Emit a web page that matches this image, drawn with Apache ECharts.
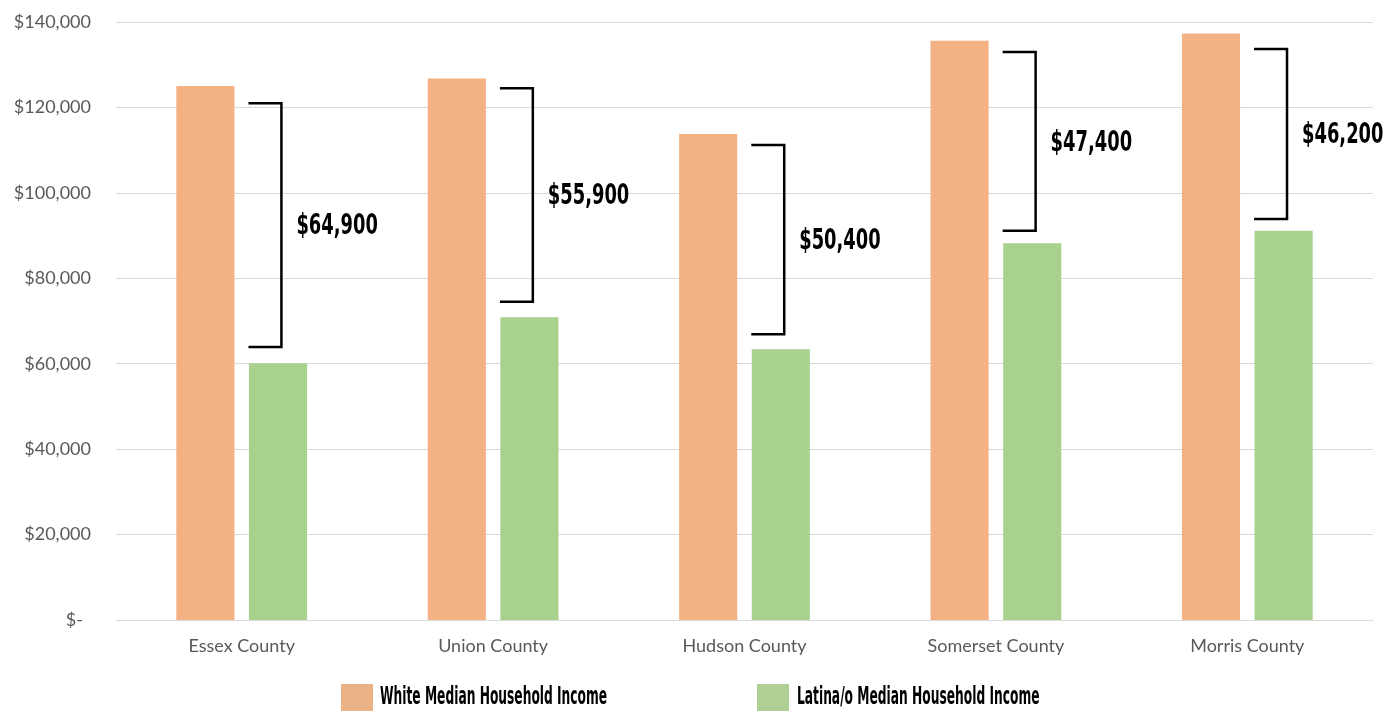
<!DOCTYPE html>
<html>
<head>
<meta charset="utf-8">
<script src="https://cdn.jsdelivr.net/npm/echarts@6/dist/echarts.min.js"></script>
<style>
html,body{margin:0;padding:0;background:#fff;}
#chart{width:1393px;height:711px;}
</style>
</head>
<body>
<div id="chart"></div>
<script>
var categories = ['Essex County', 'Union County', 'Hudson County', 'Somerset County', 'Morris County'];
var seriesNames = ['White Median Household Income', 'Latina/o Median Household Income'];
var whiteIncome = [125000, 126800, 113800, 135600, 137300];
var latinaIncome = [60100, 70900, 63400, 88200, 91100];
var gapLabels = ['$64,900', '$55,900', '$50,400', '$47,400', '$46,200'];
var bracketTop = [121000, 124500, 111200, 133000, 133700];
var bracketBottom = [63900, 74500, 66900, 91100, 93900];

var condensed = "'Liberation Sans Narrow', 'DejaVu Sans Condensed', 'Roboto', sans-serif";
var axisFont = "Lato, 'Open Sans', sans-serif";

var bracketData = categories.map(function (c, i) {
  return [i, bracketTop[i], bracketBottom[i], gapLabels[i]];
});

function fmt(v) {
  if (v === 0) return '{z|$-}';
  return '$' + v.toString().replace(/\B(?=(\d{3})+(?!\d))/g, ',');
}

var chart = echarts.init(document.getElementById('chart'));
chart.setOption({
  animation: false,
  backgroundColor: '#ffffff',
  grid: { left: 116, right: 20, top: 22, bottom: 91, containLabel: false },
  legend: [
    {
      left: 336, top: 679, itemWidth: 32, itemHeight: 32, icon: 'rect',
      data: [{ name: seriesNames[0], itemStyle: { color: '#EBB286' } }],
      formatter: function () { return ''; }
    },
    {
      left: 752, top: 679, itemWidth: 32, itemHeight: 32, icon: 'rect',
      data: [{ name: seriesNames[1], itemStyle: { color: '#B0CF95' } }],
      formatter: function () { return ''; }
    }
  ],
  graphic: [
    {
      type: 'text', x: 380, y: 697, scaleX: 0.545, silent: true,
      style: { text: seriesNames[0], fontFamily: condensed, fontWeight: 'bold', fontSize: 25, fill: '#000', textVerticalAlign: 'middle', textAlign: 'left' }
    },
    {
      type: 'text', x: 797, y: 697, scaleX: 0.545, silent: true,
      style: { text: seriesNames[1], fontFamily: condensed, fontWeight: 'bold', fontSize: 25, fill: '#000', textVerticalAlign: 'middle', textAlign: 'left' }
    }
  ],
  xAxis: {
    type: 'category',
    data: categories,
    axisTick: { show: false },
    axisLine: { show: true, lineStyle: { color: '#d9d9d9', width: 1 } },
    axisLabel: { fontFamily: axisFont, fontSize: 18, color: '#595959', margin: 17 }
  },
  yAxis: {
    type: 'value',
    min: 0, max: 140000, interval: 20000,
    axisLine: { show: false },
    axisTick: { show: false },
    splitLine: { lineStyle: { color: '#d9d9d9', width: 1 } },
    axisLabel: {
      fontFamily: axisFont, fontSize: 18, color: '#595959', margin: 25,
      formatter: fmt,
      rich: { z: { fontFamily: axisFont, fontSize: 18, color: '#595959', padding: [0, 8, 0, 0] } }
    }
  },
  series: [
    {
      name: seriesNames[0],
      type: 'bar',
      data: whiteIncome,
      itemStyle: { color: '#F4B183' },
      barGap: '25%',
      barCategoryGap: '48%'
    },
    {
      name: seriesNames[1],
      type: 'bar',
      data: latinaIncome,
      itemStyle: { color: '#A9D18E' }
    },
    {
      name: 'gap',
      type: 'custom',
      data: bracketData,
      z: 10,
      clip: false,
      silent: true,
      renderItem: function (params, api) {
        var idx = api.value(0);
        var top = api.coord([idx, api.value(1)]);
        var bot = api.coord([idx, api.value(2)]);
        var band = api.size([1, 0])[0];
        var x0 = top[0] + band * 0.027;
        var x1 = top[0] + band * 0.158;
        var label = bracketData[params.dataIndex][3];
        return {
          type: 'group',
          children: [
            {
              type: 'polyline',
              shape: { points: [[x0, top[1]], [x1, top[1]], [x1, bot[1]], [x0, bot[1]]] },
              style: { stroke: '#000', lineWidth: 2.5, fill: null }
            },
            {
              type: 'text',
              x: x1 + 15,
              y: (top[1] + bot[1]) / 2 + 2,
              scaleX: 0.71,
              style: {
                text: label,
                fontFamily: condensed,
                fontWeight: 'bold',
                fontSize: 28,
                fill: '#000',
                textAlign: 'left',
                textVerticalAlign: 'middle'
              }
            }
          ]
        };
      }
    }
  ]
});
</script>
</body>
</html>
